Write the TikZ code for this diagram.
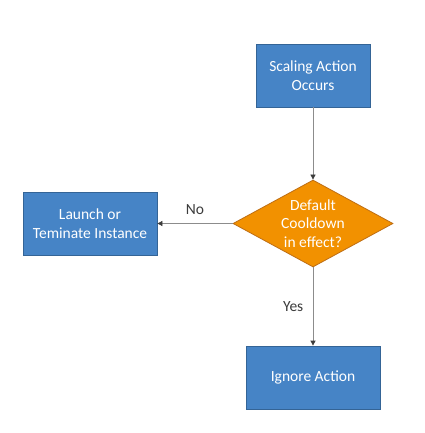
\documentclass[tikz,border=0pt]{standalone}
\usepackage{fontspec}
\setmainfont{Carlito}
\usetikzlibrary{shapes.geometric,arrows.meta}
\definecolor{boxblue}{RGB}{70,132,198}
\definecolor{boxedge}{RGB}{52,100,150}
\definecolor{diaorange}{RGB}{242,145,0}
\definecolor{diaedge}{RGB}{190,110,20}
\definecolor{linegray}{RGB}{140,140,140}
\definecolor{labelgray}{RGB}{60,60,60}
\begin{document}
\begin{tikzpicture}[x=1pt,y=-1pt,
  box/.style={rectangle,draw=boxedge,line width=0.8pt,fill=boxblue,text=white,
    align=center,inner sep=0pt,font=\fontsize{15.5}{18.5}\selectfont},
  decision/.style={diamond,draw=diaedge,line width=0.8pt,fill=diaorange,text=white,
    align=center,inner sep=0pt,aspect=1.84,font=\fontsize{15.5}{18.5}\selectfont},
  conn/.style={draw=linegray,line width=0.8pt,-{Triangle[length=5pt,width=5pt,fill=labelgray,color=labelgray]}},
  lbl/.style={text=labelgray,font=\fontsize{15.5}{18}\selectfont}]
\useasboundingbox (0,0) rectangle (424,433);
\fill[white] (0,0) rectangle (424,433);
\node[box,minimum width=114pt,minimum height=63pt] (scale) at (313,75.5) {Scaling Action\\Occurs};
\node[decision,minimum width=160pt,minimum height=87pt] (dec) at (313,223.5) {Default\\Cooldown\\in effect?};
\node[box,minimum width=134pt,minimum height=63pt] (launch) at (90,223.5) {Launch or\\Teminate Instance};
\node[box,minimum width=134pt,minimum height=63pt] (ignore) at (313,377.5) {Ignore Action};
\draw[conn] (scale) -- (dec);
\draw[conn] (dec) -- (launch) node[lbl,midway,above=5pt] (no) {No};
\draw[conn] (dec) -- (ignore) node[lbl,midway,left=6pt] (yes) {Yes};
\end{tikzpicture}
\end{document}
